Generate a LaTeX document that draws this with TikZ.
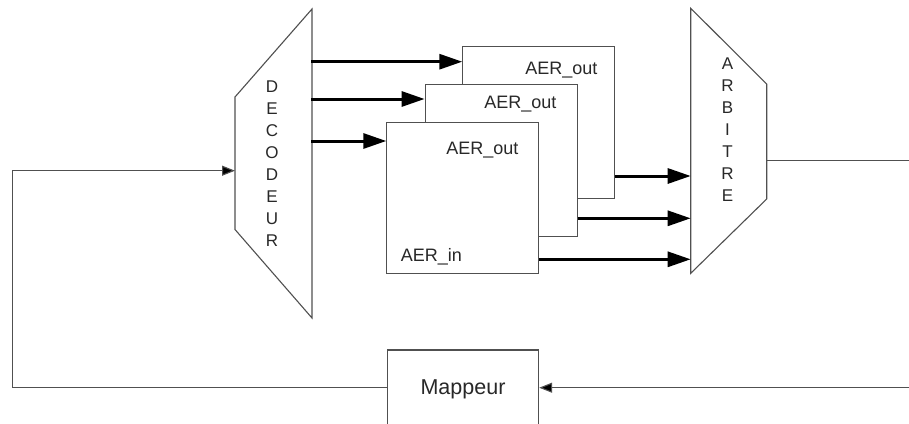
\documentclass[tikz,border=0pt]{standalone}
\usepackage{fontspec}
\setmainfont{Liberation Sans}
\usetikzlibrary{arrows.meta,calc}
\definecolor{lineg}{RGB}{80,80,80}
\definecolor{textg}{RGB}{40,40,40}
\tikzset{
  blk/.style={draw=lineg,line width=1.1pt,fill=white,minimum width=152pt,minimum height=151.5pt,inner sep=0pt},
  lbl/.style={text=textg,font=\fontsize{18}{21}\selectfont,inner sep=0pt},
  letters/.style={text=textg,font=\fontsize{17}{22}\selectfont,align=center,inner sep=0pt},
  thickarr/.style={line width=3pt,draw=black,-{Triangle[length=23pt,width=15pt]}},
  thinarr/.style={line width=1.1pt,draw=lineg,-{Triangle[length=13pt,width=10pt,fill=black]}},
  thinline/.style={line width=1.1pt,draw=lineg},
  trap/.style={line width=1.1pt,draw=lineg,fill=white}
}
\begin{document}
\begin{tikzpicture}[x=1pt,y=-1pt]
\clip (0,0) rectangle (909,423);
\fill[white] (0,0) rectangle (909,423);

% Decoder trapezoid
\coordinate (decTR) at (312,9);
\coordinate (decBR) at (312,318);
\coordinate (decBL) at (235,229.5);
\coordinate (decTL) at (235,97);
\draw[trap] (decTL) -- (decTR) -- (decBR) -- (decBL) -- cycle;
\node[letters] (dectext) at (272,163.5) {D\\E\\C\\O\\D\\E\\U\\R};

% Arbiter trapezoid
\coordinate (arbTL) at (690.7,8.3);
\coordinate (arbBL) at (690.7,273.3);
\coordinate (arbBR) at (766.7,199);
\coordinate (arbTR) at (766.7,84);
\draw[trap] (arbTL) -- (arbTR) -- (arbBR) -- (arbBL) -- cycle;
\node[letters,font=\fontsize{17}{22.1}\selectfont] (arbtext) at (727.5,129.7) {A\\R\\B\\I\\T\\R\\E};

% Stacked blocks
\node[blk] (back) at (538.85,122.5) {};
\node[blk] (mid) at (501.15,160.5) {};
\node[blk] (front) at (462.85,198.15) {};
\node[lbl,anchor=base east] (lback) at (597.7,74) {AER\_out};
\node[lbl,anchor=base east] (lmid) at (556.7,108.3) {AER\_out};
\node[lbl,anchor=base east] (lfront) at (518.5,154.5) {AER\_out};
\node[lbl,anchor=base west] (lin) at (400.7,261.7) {AER\_in};

% Mappeur
\node[blk,minimum width=151.5pt,minimum height=75.4pt] (map) at (462.9,387.7) {};
\node[lbl,font=\fontsize{21.5}{25}\selectfont,anchor=base] (maptext) at (463,394.5) {Mappeur};

% Decoder outputs
\coordinate (d1) at (311,61.7);
\coordinate (d2) at (311,99);
\coordinate (d3) at (311,141);
\draw[thickarr] (d1) -- (d1 -| back.west);
\draw[thickarr] (d2) -- (d2 -| mid.west);
\draw[thickarr] (d3) -- (d3 -| front.west);

% Block outputs to arbiter
\coordinate (a1) at (690.7,176);
\coordinate (a2) at (690.7,218.3);
\coordinate (a3) at (690.7,259.3);
\draw[thickarr] (a1 -| back.east) -- (a1);
\draw[thickarr] (a2 -| mid.east) -- (a2);
\draw[thickarr] (a3 -| front.east) -- (a3);

% Arbiter output
\coordinate (arbout) at (766.7,160.7);
\coordinate (rightend) at (909,160.7);
\draw[thinline] (arbout) -- (rightend);

% Mappeur input
\coordinate (mapin) at (909,387.7);
\draw[thinarr] (mapin) -- (map.east);

% Feedback
\coordinate (fbl) at (12.6,387.7);
\coordinate (fbt) at (12.6,170.7);
\coordinate (decin) at (235,170.7);
\draw[thinarr] (map.west) -- (fbl) -- (fbt) -- (decin);
\end{tikzpicture}
\end{document}
